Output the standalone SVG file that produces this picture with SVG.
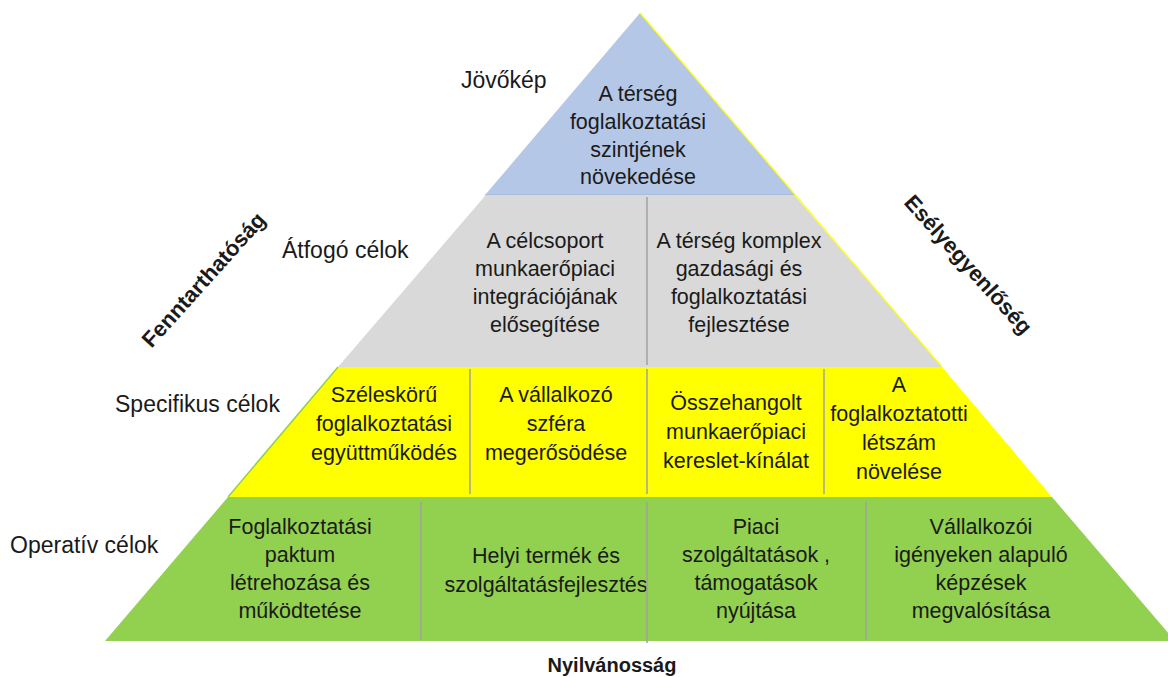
<svg xmlns="http://www.w3.org/2000/svg" width="1168" height="677" viewBox="0 0 1168 677">
<style>
text{font-family:"Liberation Sans",Arial,sans-serif;fill:#1a1a1a}
.t{font-size:21.5px;text-anchor:middle}
.lbl{font-size:23px}
.b{font-weight:bold;font-size:22px;text-anchor:middle}
.n{font-weight:bold;font-size:20px;text-anchor:middle}
.blue{fill:#b4c7e7}
.gray{fill:#d9d9d9}
.yel{fill:#ffff00}
.grn{fill:#92d050}
.div{stroke:#a0a0a0;stroke-width:1.5}
</style>
<rect width="1168" height="677" fill="#ffffff"/>
<g id="vision">
<polygon class="blue" points="640,13 795,195 485,195"/>
<line x1="485" y1="195" x2="795" y2="195" stroke="#9fb3d6" stroke-width="1"/>
<text class="t"><tspan x="638" y="101">A térség</tspan><tspan x="638" y="129">foglalkoztatási</tspan><tspan x="638" y="157">szintjének</tspan><tspan x="638" y="184">növekedése</tspan></text>
</g>
<g id="overall-1">
<polygon class="gray" points="485,196 647,196 647,367 338,367"/>
<text class="t"><tspan x="545" y="248">A célcsoport</tspan><tspan x="545" y="276">munkaerőpiaci</tspan><tspan x="545" y="304">integrációjának</tspan><tspan x="545" y="332">elősegítése</tspan></text>
</g>
<g id="overall-2">
<polygon class="gray" points="647,196 795,196 942,367 647,367"/>
<text class="t"><tspan x="739" y="248">A térség komplex</tspan><tspan x="739" y="276">gazdasági és</tspan><tspan x="739" y="304">foglalkoztatási</tspan><tspan x="739" y="332">fejlesztése</tspan></text>
</g>
<g id="specific-1">
<polygon class="yel" points="338,367 470,367 470,497 228,497"/>
<text class="t"><tspan x="384" y="402">Széleskörű</tspan><tspan x="384" y="431">foglalkoztatási</tspan><tspan x="384" y="460">együttműködés</tspan></text>
</g>
<g id="specific-2">
<polygon class="yel" points="470,367 647,367 647,497 470,497"/>
<text class="t"><tspan x="556" y="402">A vállalkozó</tspan><tspan x="556" y="431">szféra</tspan><tspan x="556" y="460">megerősödése</tspan></text>
</g>
<g id="specific-3">
<polygon class="yel" points="647,367 824,367 824,497 647,497"/>
<text class="t"><tspan x="736" y="410">Összehangolt</tspan><tspan x="736" y="439">munkaerőpiaci</tspan><tspan x="736" y="468">kereslet-kínálat</tspan></text>
</g>
<g id="specific-4">
<polygon class="yel" points="824,367 942,367 1052,497 824,497"/>
<text class="t"><tspan x="899" y="392">A</tspan><tspan x="899" y="421">foglalkoztatotti</tspan><tspan x="899" y="450">létszám</tspan><tspan x="899" y="479">növelése</tspan></text>
</g>
<g id="operative-1">
<polygon class="grn" points="228,497 421,497 421,641 105,641"/>
<text class="t"><tspan x="300" y="534">Foglalkoztatási</tspan><tspan x="300" y="562">paktum</tspan><tspan x="300" y="590">létrehozása és</tspan><tspan x="300" y="618">működtetése</tspan></text>
</g>
<g id="operative-2">
<polygon class="grn" points="421,497 647,497 647,641 421,641"/>
<text class="t"><tspan x="546" y="563">Helyi termék és</tspan><tspan x="546" y="592">szolgáltatásfejlesztés</tspan></text>
</g>
<g id="operative-3">
<polygon class="grn" points="647,497 866,497 866,641 647,641"/>
<text class="t"><tspan x="756" y="534">Piaci</tspan><tspan x="756" y="562">szolgáltatások ,</tspan><tspan x="756" y="590">támogatások</tspan><tspan x="756" y="618">nyújtása</tspan></text>
</g>
<g id="operative-4">
<polygon class="grn" points="866,497 1052,497 1175,641 866,641"/>
<text class="t"><tspan x="981" y="534">Vállalkozói</tspan><tspan x="981" y="562">igényeken alapuló</tspan><tspan x="981" y="590">képzések</tspan><tspan x="981" y="618">megvalósítása</tspan></text>
</g>
<g id="connectors">
<line class="div" x1="647" y1="197" x2="647" y2="365"/>
<line class="div" x1="470" y1="369" x2="470" y2="494"/>
<line class="div" x1="647" y1="369" x2="647" y2="494"/>
<line class="div" x1="824" y1="369" x2="824" y2="494"/>
<line class="div" x1="421" y1="502" x2="421" y2="640"/>
<line class="div" x1="647" y1="502" x2="647" y2="643"/>
<line class="div" x1="866" y1="502" x2="866" y2="640"/>
<line x1="640" y1="13" x2="942" y2="367" stroke="#ffff00" stroke-width="1.2"/>
<line x1="338" y1="367" x2="228" y2="497" stroke="#92d050" stroke-width="1.5"/>
</g>
<g id="labels">
<text class="lbl" x="461" y="88">Jövőkép</text>
<text class="lbl" x="282" y="258">Átfogó célok</text>
<text class="lbl" x="115" y="412">Specifikus célok</text>
<text class="lbl" x="10" y="553">Operatív célok</text>
<text class="b" transform="translate(204,280) rotate(-48)" y="7">Fenntarthatóság</text>
<text class="b" transform="translate(968,265) rotate(48)" y="7">Esélyegyenlőség</text>
<text class="n" x="612" y="672">Nyilvánosság</text>
</g>
</svg>
